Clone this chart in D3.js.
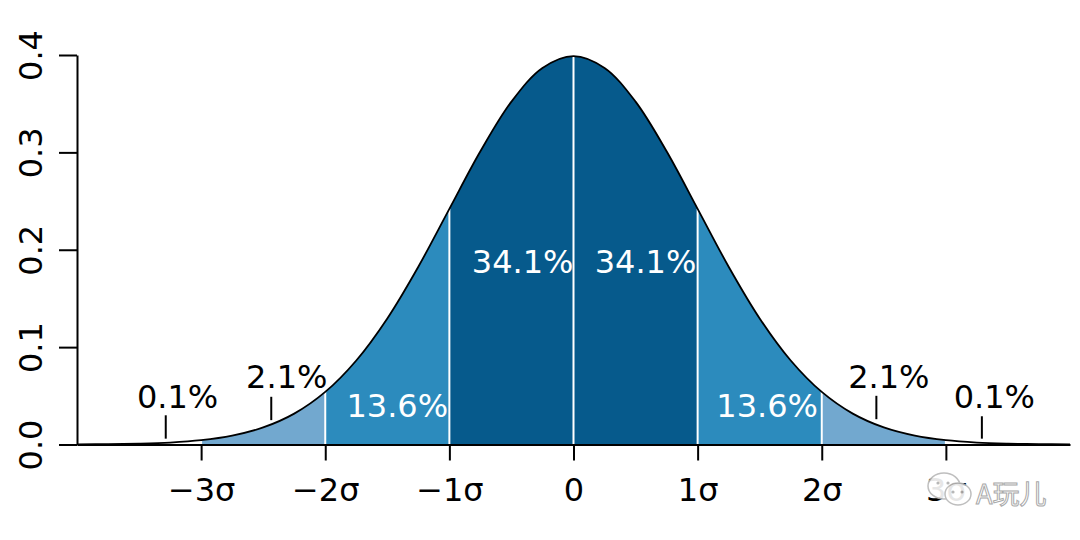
<!DOCTYPE html>
<html>
<head>
<meta charset="utf-8">
<script src="https://cdn.jsdelivr.net/npm/d3@7"></script>
<style>
  body { margin: 0; background: #fff; }
  text { font-family: "DejaVu Sans", sans-serif; }
</style>
</head>
<body>
<div id="chart"></div>
<script>
// density curve, every 0.25 sigma
var sigmaX = [-4, -3.75, -3.5, -3.25, -3, -2.75, -2.5, -2.25, -2, -1.75, -1.5, -1.25, -1, -0.75, -0.5, -0.25,
              0, 0.25, 0.5, 0.75, 1, 1.25, 1.5, 1.75, 2, 2.25, 2.5, 2.75, 3, 3.25, 3.5, 3.75, 4];
var density = [0.0001, 0.0004, 0.0009, 0.002, 0.0044, 0.0091, 0.0175, 0.0317, 0.054, 0.0863, 0.1295, 0.1826, 0.242, 0.3011, 0.3521, 0.3867,
               0.3989, 0.3867, 0.3521, 0.3011, 0.242, 0.1826, 0.1295, 0.0863, 0.054, 0.0317, 0.0175, 0.0091, 0.0044, 0.002, 0.0009, 0.0004, 0.0001];

// shaded bands between sigma edges
var bandEdges = [-3, -2, -1, 0, 1, 2, 3];
var bandLevel = [0, 1, 2, 2, 1, 0];   // 0 light, 1 mid, 2 dark

// axis ticks
var xTicks = [-3, -2, -1, 0, 1, 2, 3];
var xTickLabels = ["\u22123\u03c3", "\u22122\u03c3", "\u22121\u03c3", "0", "1\u03c3", "2\u03c3", "3\u03c3"];
var yTicks = [0, 0.1, 0.2, 0.3, 0.4];

// percentage labels (anchor in sigma / density units)
var labelText    = ["34.1%", "34.1%", "13.6%", "13.6%", "2.1%", "2.1%", "0.1%", "0.1%"];
var labelSigma   = [-0.41, 0.58, -1.42, 1.56, -2.31, 2.54, -3.19, 3.39];
var labelDensity = [0.176, 0.176, 0.028, 0.028, 0.058, 0.058, 0.037, 0.037];
var labelInside  = [true, true, true, true, false, false, false, false];

// small leader marks for the outside labels
var leaderSigma = [-2.435, 2.44, -3.285, 3.29];
var leaderLow   = [0.025, 0.026, 0.006, 0.006];
var leaderHigh  = [0.049, 0.050, 0.030, 0.029];

var bandColors = ["#72a8cf", "#2c8bbd", "#065a8c"];

var W = 1080, H = 540;
var svg = d3.select("#chart").append("svg")
    .attr("width", W)
    .attr("height", H)
    .style("background", "#fff");

var x = d3.scaleLinear().domain([-4, 4]).range([77, 1070]);
var y = d3.scaleLinear().domain([0, 0.4]).range([444.5, 55]);

var pts = sigmaX.map(function(s, i) { return [s, density[i]]; });

var area = d3.area()
    .x(function(d) { return x(d[0]); })
    .y0(y(0))
    .y1(function(d) { return y(d[1]); })
    .curve(d3.curveCatmullRom);

var line = d3.line()
    .x(function(d) { return x(d[0]); })
    .y(function(d) { return y(d[1]); })
    .curve(d3.curveCatmullRom);

var defs = svg.append("defs");

// fills, one clipped copy of the area per band
for (var i = 0; i < bandLevel.length; i++) {
  defs.append("clipPath").attr("id", "band" + i)
    .append("rect")
      .attr("x", x(bandEdges[i]))
      .attr("y", 0)
      .attr("width", x(bandEdges[i + 1]) - x(bandEdges[i]))
      .attr("height", H);
  svg.append("path")
    .datum(pts)
    .attr("d", area)
    .attr("clip-path", "url(#band" + i + ")")
    .attr("fill", bandColors[bandLevel[i]]);
}

// white separators
svg.append("g").selectAll("line")
  .data(bandEdges)
  .enter().append("line")
    .attr("x1", function(d) { return x(d); })
    .attr("x2", function(d) { return x(d); })
    .attr("y1", y(0))
    .attr("y2", function(d) { return y(density[sigmaX.indexOf(d)]); })
    .attr("stroke", "#fff")
    .attr("stroke-width", 2);

// curve outline
svg.append("path")
  .datum(pts)
  .attr("d", line)
  .attr("fill", "none")
  .attr("stroke", "#000")
  .attr("stroke-width", 1.8);

// x axis
var xAxis = svg.append("g")
  .attr("transform", "translate(0," + y(0) + ")")
  .call(d3.axisBottom(x)
    .tickValues(xTicks)
    .tickFormat(function(d, i) { return xTickLabels[i]; })
    .tickSize(16)
    .tickSizeOuter(0)
    .tickPadding(0));
xAxis.select(".domain").attr("stroke-width", 2);
xAxis.selectAll(".tick line").attr("stroke-width", 2);
xAxis.selectAll(".tick text")
  .attr("y", 56.5)
  .attr("dy", null)
  .style("font-size", "32px")
  .style("font-family", "DejaVu Sans")
  .attr("fill", "#000");

// y axis, labels turned on their side
var yAxis = svg.append("g")
  .attr("transform", "translate(" + x(-4) + ",0)")
  .call(d3.axisLeft(y)
    .tickValues(yTicks)
    .tickFormat(d3.format(".1f"))
    .tickSize(18)
    .tickSizeOuter(0));
yAxis.select(".domain").attr("stroke-width", 2);
yAxis.selectAll(".tick line").attr("stroke-width", 2);
yAxis.selectAll(".tick text")
  .attr("x", null)
  .attr("dy", null)
  .attr("transform", "translate(-35,0) rotate(-90)")
  .attr("text-anchor", "middle")
  .style("font-size", "32px")
  .style("font-family", "DejaVu Sans")
  .attr("fill", "#000");

// leader marks
for (var k = 0; k < leaderSigma.length; k++) {
  svg.append("line")
    .attr("x1", x(leaderSigma[k])).attr("x2", x(leaderSigma[k]))
    .attr("y1", y(leaderLow[k])).attr("y2", y(leaderHigh[k]))
    .attr("stroke", "#000")
    .attr("stroke-width", 2);
}

// percentage labels
svg.append("g").selectAll("text")
  .data(labelText)
  .enter().append("text")
    .attr("x", function(d, i) { return x(labelSigma[i]); })
    .attr("y", function(d, i) { return y(labelDensity[i]); })
    .attr("text-anchor", "middle")
    .style("font-size", "32px")
    .attr("fill", function(d, i) { return labelInside[i] ? "#fff" : "#000"; })
    .text(function(d) { return d; });

// watermark in the corner
var wm = svg.append("g").attr("opacity", 0.9);
wm.append("ellipse").attr("cx", 944).attr("cy", 486).attr("rx", 16).attr("ry", 13)
  .attr("fill", "#fff").attr("stroke", "#b8b8b8").attr("stroke-width", 1.5);
wm.append("ellipse").attr("cx", 958).attr("cy", 494).attr("rx", 13).attr("ry", 11)
  .attr("fill", "#fff").attr("stroke", "#b8b8b8").attr("stroke-width", 1.5);
[[938, 483], [948, 483], [953, 492], [962, 492]].forEach(function(p) {
  wm.append("circle").attr("cx", p[0]).attr("cy", p[1]).attr("r", 1.6).attr("fill", "#b0b0b0");
});
wm.append("text")
  .attr("x", 976)
  .attr("y", 504)
  .style("font-family", "'Noto Sans CJK SC', sans-serif")
  .style("font-size", "27px")
  .attr("fill", "#fff")
  .attr("stroke", "#a0a0a0")
  .attr("stroke-width", 1)
  .text("A玩儿");
</script>
</body>
</html>
